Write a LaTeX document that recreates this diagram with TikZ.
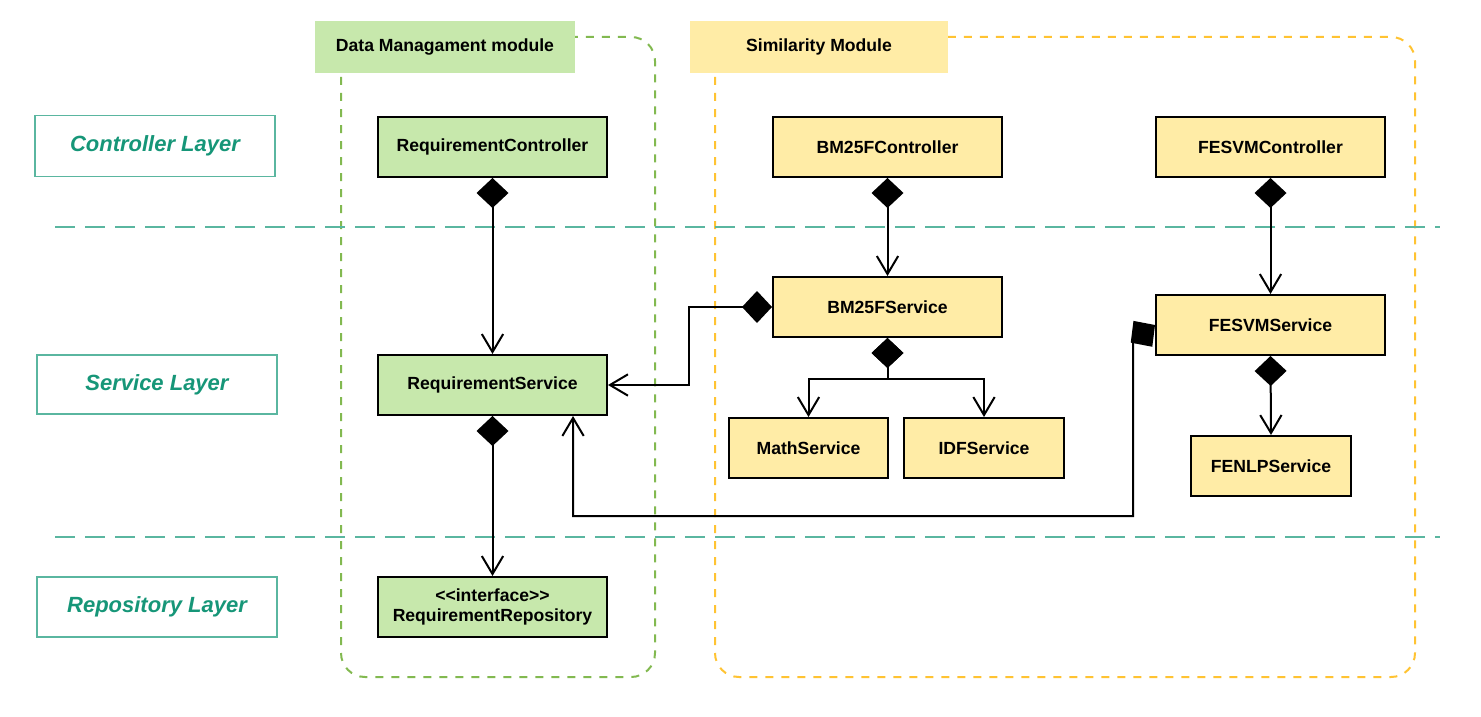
\documentclass[tikz,border=0pt]{standalone}
\usepackage{fontspec}
\setmainfont{Liberation Sans}
\usepackage{tikz}
\usetikzlibrary{arrows.meta}
\definecolor{layerline}{RGB}{90,182,160}
\definecolor{layertext}{RGB}{22,150,120}
\definecolor{dmfill}{RGB}{199,232,172}
\definecolor{dmframe}{RGB}{130,185,80}
\definecolor{simfill}{RGB}{255,236,166}
\definecolor{simframe}{RGB}{255,195,50}

\tikzset{
  classbox/.style={draw=black, line width=1.5pt, minimum width=171.75pt,
    minimum height=45pt, inner sep=2pt, align=center,
    font=\fontsize{13.2}{15}\selectfont\bfseries},
  smallbox/.style={classbox, minimum width=120pt},
  layerbox/.style={draw=layerline, line width=1.2pt, minimum width=180pt,
    minimum height=45pt, text=layertext,
    font=\fontsize{16.5}{19}\selectfont\bfseries\itshape},
  titlebox/.style={minimum width=195pt, minimum height=39pt,
    font=\fontsize{13.2}{15}\selectfont\bfseries},
  frame/.style={line width=1.5pt, dash pattern=on 6pt off 6pt,
    rounded corners=18pt},
  comp/.style={line width=1.5pt,
    {Diamond[length=22.5pt,width=24pt]}-{Straight Barb[length=13.5pt,width=16pt]}}
}

\begin{document}
\begin{tikzpicture}[x=0.75pt, y=-0.75pt]
  \useasboundingbox (0,0) rectangle (1481,717);

  % Module frames
  \draw[frame, dmframe] (341,37) rectangle (655,677);
  \draw[frame, simframe] (715,37) rectangle (1415,677);
  \node[titlebox, fill=dmfill] (dmTitle) at (445,47) {Data Managament module};
  \node[titlebox, fill=simfill, minimum width=193.5pt] (simTitle) at (819,47) {Similarity Module};

  % Layer separators
  \draw[layerline, line width=1.5pt, dash pattern=on 15pt off 7.5pt] (55,227) -- (1440,227);
  \draw[layerline, line width=1.5pt, dash pattern=on 15pt off 7.5pt] (55,537) -- (1440,537);

  % Layer labels
  \node[layerbox, minimum height=45.75pt] (ctrlLayer) at (155,146) {Controller Layer};
  \node[layerbox, minimum height=44.25pt] (servLayer) at (157,384.5) {Service Layer};
  \node[layerbox] (repoLayer) at (157,607) {Repository Layer};

  % Data management classes
  \node[classbox, fill=dmfill] (reqCtrl) at (492.5,147) {RequirementController};
  \node[classbox, fill=dmfill] (reqServ) at (492.5,385) {RequirementService};
  \node[classbox, fill=dmfill] (reqRepo) at (492.5,607)
    {<\kern0pt<interface>\kern0pt>\\RequirementRepository};

  % Similarity classes
  \node[classbox, fill=simfill] (bmCtrl) at (887.5,147) {BM25FController};
  \node[classbox, fill=simfill] (bmServ) at (887.5,307) {BM25FService};
  \node[classbox, fill=simfill] (feCtrl) at (1270.5,147) {FESVMController};
  \node[classbox, fill=simfill] (feServ) at (1270.5,325) {FESVMService};
  \node[smallbox, fill=simfill, minimum width=119.25pt] (mathServ) at (808.5,448) {MathService};
  \node[smallbox, fill=simfill] (idfServ) at (984,448) {IDFService};
  \node[smallbox, fill=simfill] (nlpServ) at (1271,466) {FENLPService};

  % Compositions
  \draw[comp] (reqCtrl.south) -- (reqServ.north);
  \draw[comp] (reqServ.south) -- (reqRepo.north);
  \draw[comp] (bmCtrl.south) -- (bmServ.north);
  \draw[comp] (feCtrl.south) -- (feServ.north);
  \draw[comp] (feServ.south) -- (nlpServ.north);
  \draw[comp] (bmServ.south) -- ++(0,41) -| (mathServ.north);
  \draw[comp] (bmServ.south) -- ++(0,41) -| (idfServ.north);
  \draw[comp] (bmServ.west) -- ++(-83,0) |- (reqServ.east);
  \draw[comp] (feServ.west) -- (1133,341) -- (1133,516) -| ([xshift=60.4pt]reqServ.south);
\end{tikzpicture}
\end{document}
